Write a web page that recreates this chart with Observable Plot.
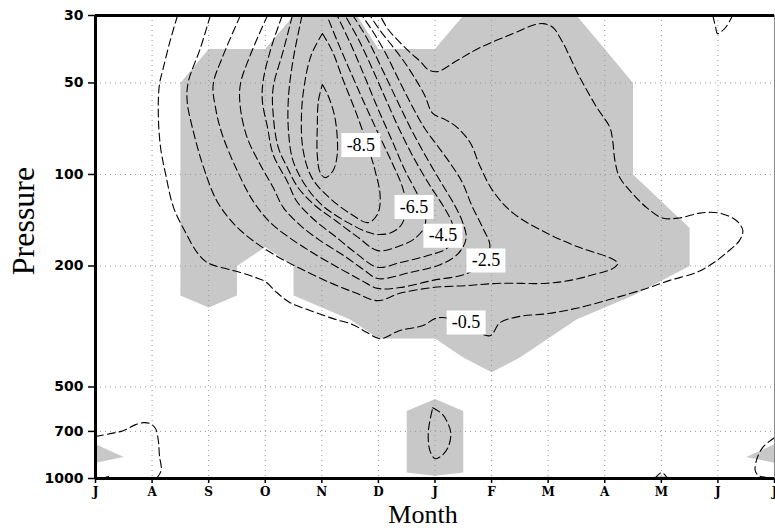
<!DOCTYPE html>
<html>
<head>
<meta charset="utf-8">
<script src="https://cdn.jsdelivr.net/npm/d3@7"></script>
<script src="https://cdn.jsdelivr.net/npm/@observablehq/plot@0.6"></script>
<style>
  body { margin: 0; background: #fff; }
</style>
</head>
<body>
<div id="chart"></div>
<script>
// ---------- axis data ----------
const monthLabels = ["J","A","S","O","N","D","J","F","M","A","M","J","J"];
const pressureTicks = [30, 50, 100, 200, 500, 700, 1000];
const gridMonths = [1,2,3,4,5,6,7,8,9,10,11];
const gridPressures = [50, 100, 200, 500, 700];

// ---------- contour lines: [month index, pressure hPa] ----------
const c05main = [[1.45,30],[1.32,36.3],[1.20,44.5],[1.13,50.6],[1.11,63.5],[1.15,81.5],[1.24,100],[1.38,128.5],[1.59,155],[1.80,181],[1.98,195],[2.56,210],[2.82,218],[3.00,225],[3.21,245],[3.44,264],[3.79,280],[4.20,298],[4.55,312],[4.80,331],[5.03,347],[5.38,326],[5.79,314],[6.00,298],[6.18,296],[6.55,314],[6.97,339],[7.15,307],[7.50,293],[7.98,287],[8.56,274],[9.14,256],[9.74,237],[10.15,223],[10.62,210],[10.91,196],[11.15,181],[11.38,165],[11.44,153],[11.33,142],[11.03,134],[10.68,134],[10.32,139],[10.02,139],[9.74,128.5],[9.49,115.5],[9.26,102],[9.18,90],[9.14,77.3],[9.09,70],[8.86,60.2],[8.56,48],[8.24,36.3],[8.08,32.8],[7.91,31.9],[7.73,32.3],[7.38,34.4],[6.79,38.3],[6.39,42.2],[6.04,45.9],[5.88,45.2],[5.74,42.5],[5.56,39.7],[5.35,36.3],[5.17,33.3],[5.03,30]];
const c15 = [[2.03,30],[1.85,38.6],[1.64,49.6],[1.62,57.5],[1.73,72.3],[1.91,94.8],[2.15,122.7],[2.47,147],[2.82,167],[3.21,186],[3.62,204],[4.15,227],[4.59,245],[4.99,260],[5.38,246],[5.96,235.5],[6.56,232],[7.15,228],[7.98,228],[8.44,222],[8.82,213],[9.14,204],[9.23,196],[9.09,188],[8.56,174],[7.98,156],[7.38,134],[7.02,113],[6.79,93.4],[6.62,78.5],[6.39,70],[6.18,66],[5.96,63],[5.82,55],[5.65,48.4],[5.44,42.2],[5.24,37.7],[5.03,33.6],[4.85,30]];
const c25 = [[2.56,30],[2.24,41.3],[2.08,50.6],[2.12,60.2],[2.24,73.9],[2.51,97.7],[2.79,122.7],[3.09,144],[3.44,162],[3.88,183],[4.32,204],[4.68,222],[4.99,237],[5.38,235.5],[5.96,223],[6.56,212],[6.88,193],[6.97,171],[6.85,150.6],[6.65,126.5],[6.48,106],[6.26,91.4],[6.04,80.3],[5.82,70.6],[5.59,59.3],[5.35,48.4],[5.12,39.7],[4.89,33.6],[4.71,30]];
const c35 = [[3.04,30],[2.74,40.3],[2.56,50.6],[2.56,60.2],[2.68,75.6],[2.91,92.7],[3.14,110.4],[3.32,128.5],[3.62,147],[3.97,165],[4.41,186],[4.76,207],[4.99,220],[5.56,210],[6.09,198],[6.41,182],[6.55,162],[6.49,144],[6.35,126.5],[6.14,108.7],[5.88,90],[5.59,71.7],[5.33,57.1],[5.06,44.8],[4.80,35.7],[4.55,30]];
const c45 = [[3.30,30],[3.09,39.1],[2.96,49.6],[2.95,57.5],[3.04,70],[3.14,86],[3.39,105.5],[3.56,122.7],[3.88,141.7],[4.24,160],[4.59,180.7],[4.99,202],[5.38,195],[5.82,186],[6.21,175],[6.35,161],[6.30,144],[6.14,126.5],[5.91,108.7],[5.65,90],[5.38,71.7],[5.14,57.1],[4.89,44.8],[4.64,35.7],[4.41,30]];
const c55 = [[3.48,30],[3.32,39.1],[3.14,51.8],[3.14,63.5],[3.23,81.5],[3.39,94.8],[3.58,110.4],[3.88,126.5],[4.24,141.7],[4.64,161],[4.99,178],[5.35,172.6],[5.65,162],[5.82,148],[5.82,133.4],[5.70,117.3],[5.47,97],[5.24,77.3],[4.99,60.7],[4.75,47.3],[4.50,36.9],[4.27,30]];
const c65 = [[3.65,30],[3.49,42.2],[3.41,55.8],[3.41,71.7],[3.49,90],[3.71,108.7],[4.01,126.5],[4.46,144],[4.82,155],[4.99,157.6],[5.24,155],[5.42,145],[5.49,127.5],[5.42,109.5],[5.24,91.4],[4.99,72.8],[4.73,57.1],[4.48,44.8],[4.27,36.3],[4.09,30]];
const c75 = [[4.01,34.4],[4.18,39.1],[4.38,49.1],[4.59,61.6],[4.78,77.3],[4.94,97],[5.03,117.3],[4.99,134.4],[4.82,144],[4.50,134.4],[4.15,120],[3.83,103],[3.67,83.4],[3.64,64],[3.69,51],[3.81,40.6],[4.01,34.4]];
const c85 = [[4.01,50.6],[4.11,55],[4.22,63.5],[4.27,74.5],[4.27,86.6],[4.20,97],[4.06,102.4],[3.97,98.5],[3.92,86.6],[3.92,69],[3.94,57.1],[4.01,50.6]];
const c05jan = [[5.96,585],[6.12,612],[6.23,660],[6.28,712],[6.23,791],[6.12,841],[6.00,860],[5.91,809.5],[5.88,712],[5.91,645],[5.96,585]];
const c05sw = [[0,728],[0.26,712],[0.49,696],[0.71,665],[0.85,655],[0.97,660],[1.06,685],[1.11,750],[1.13,841],[1.16,942],[1.08,1000]];
const c05sw2 = [[0.11,1000],[0.23,985]];
const c05se = [[12,734],[11.79,791],[11.68,873],[11.66,942],[11.72,978],[11.88,993],[12,993]];
const c05may = [[9.88,1000],[9.95,971],[10.01,956],[10.06,971],[10.11,1000]];
const c05jun = [[10.91,30],[10.96,32.8],[10.99,34.4],[11.06,33.9],[11.15,32.6],[11.26,30]];

// ---------- shaded (significant) regions ----------
const shadeMain = [[3.5,30],[4.62,30],[5,38.7],[6,38.7],[6.5,30],[8.5,30],[9,38.7],[9.5,50],[9.5,100],[10,122.5],[10.5,150],[10.5,200],[10,223.6],[9.5,250],[9,273.9],[8.5,300],[8,346.4],[7.5,400],[7,447.2],[6.5,400],[6,346.4],[5,346.4],[4.5,300],[4,273.9],[3.5,250],[3.5,200],[3,173.2],[2.5,200],[2.5,250],[2,273.9],[1.5,250],[1.5,50],[2,38.7],[3,38.7]];
const shadeJan = [[5.5,600],[6,547.7],[6.5,600],[6.5,955],[6,980],[5.5,955]];
const shadeSW = [[0,771],[0.5,850],[0,887]];
const shadeSE = [[12,771],[11.5,850],[12,887]];
const shadeMar = [[7.6,1000],[8,985],[8.4,1000]];
const shadeMay = [[9.67,1000],[10,980],[10.35,1000]];

// ---------- contour labels ----------
const labelText = ["-8.5","-6.5","-4.5","-2.5","-0.5"];
const labelMonth = [4.69, 5.63, 6.14, 6.90, 6.55];
const labelPressure = [80, 128, 159, 192, 307];

// ---------- build tables ----------
const contourSets = [["c05main",c05main],["c15",c15],["c25",c25],["c35",c35],["c45",c45],["c55",c55],["c65",c65],["c75",c75],["c85",c85],["c05jan",c05jan],["c05sw",c05sw],["c05sw2",c05sw2],["c05se",c05se],["c05may",c05may],["c05jun",c05jun]];
const contourRows = contourSets.flatMap(([id, pts]) => pts.map(([m, p]) => ({id, m, p})));
const shadeSets = [["main",shadeMain],["jan",shadeJan],["sw",shadeSW],["se",shadeSE],["mar",shadeMar],["may",shadeMay]];
const shadeRows = shadeSets.flatMap(([id, pts]) => pts.map(([m, p]) => ({id, m, p})));
const labels = labelText.map((t, i) => ({t, m: labelMonth[i], p: labelPressure[i]}));

const boxSymbol = { draw(context) { context.rect(-19.5, -12, 39, 24); } };

const chart = Plot.plot({
  width: 775,
  height: 528,
  marginLeft: 95,
  marginRight: 1,
  marginTop: 15,
  marginBottom: 50,
  style: { color: "black", background: "white" },
  x: { domain: [0, 12] },
  y: { type: "log", domain: [1000, 30] },
  marks: [
    Plot.line(shadeRows, { x: "m", y: "p", z: "id", fill: "#c8c8c8", stroke: "none", curve: "linear" }),
    Plot.ruleX(gridMonths, { stroke: "#999", strokeWidth: 1, strokeDasharray: "1,4" }),
    Plot.ruleY(gridPressures, { stroke: "#999", strokeWidth: 1, strokeDasharray: "1,4" }),
    Plot.line(contourRows, { x: "m", y: "p", z: "id", stroke: "black", strokeWidth: 1.1, strokeDasharray: "8,4", curve: "catmull-rom", clip: true }),
    Plot.dot(labels, { x: "m", y: "p", symbol: boxSymbol, fill: "white", stroke: "none" }),
    Plot.text(labels, { x: "m", y: "p", text: "t", fontFamily: "Liberation Serif", fontSize: 18, fill: "black" }),
    Plot.ruleX([12], { stroke: "#888", strokeWidth: 1 }),
    Plot.ruleY([30], { stroke: "black", strokeWidth: 3 }),
    Plot.ruleY([1000], { stroke: "black", strokeWidth: 3 }),
    Plot.ruleX([0], { stroke: "black", strokeWidth: 3 }),
    Plot.axisY({ ticks: pressureTicks, tickFormat: () => "", tickSize: 7, strokeWidth: 1.5, label: null }),
    Plot.text(pressureTicks, { y: d => d, text: d => String(d), frameAnchor: "left", dx: -12, textAnchor: "end", lineAnchor: "middle", fontSize: 14, fontWeight: "bold", fontFamily: "DejaVu Sans", fill: "black" }),
    Plot.axisX({ ticks: monthLabels.map((_, i) => i), tickFormat: i => monthLabels[i], tickSize: 5, tickPadding: 4, strokeWidth: 1.5, fontSize: 12, fontWeight: "bold", fontFamily: "DejaVu Serif", label: null }),
    Plot.text(["Pressure"], { frameAnchor: "left", text: d => d, rotate: -90, dx: -62, dy: -26, lineAnchor: "bottom", textAnchor: "middle", fontFamily: "Liberation Serif", fontSize: 32 }),
    Plot.text(["Month"], { frameAnchor: "bottom", text: d => d, dx: -12, dy: 44.5, lineAnchor: "bottom", textAnchor: "middle", fontFamily: "Liberation Serif", fontSize: 26 })
  ]
});
document.getElementById("chart").appendChild(chart);
</script>
</body>
</html>
